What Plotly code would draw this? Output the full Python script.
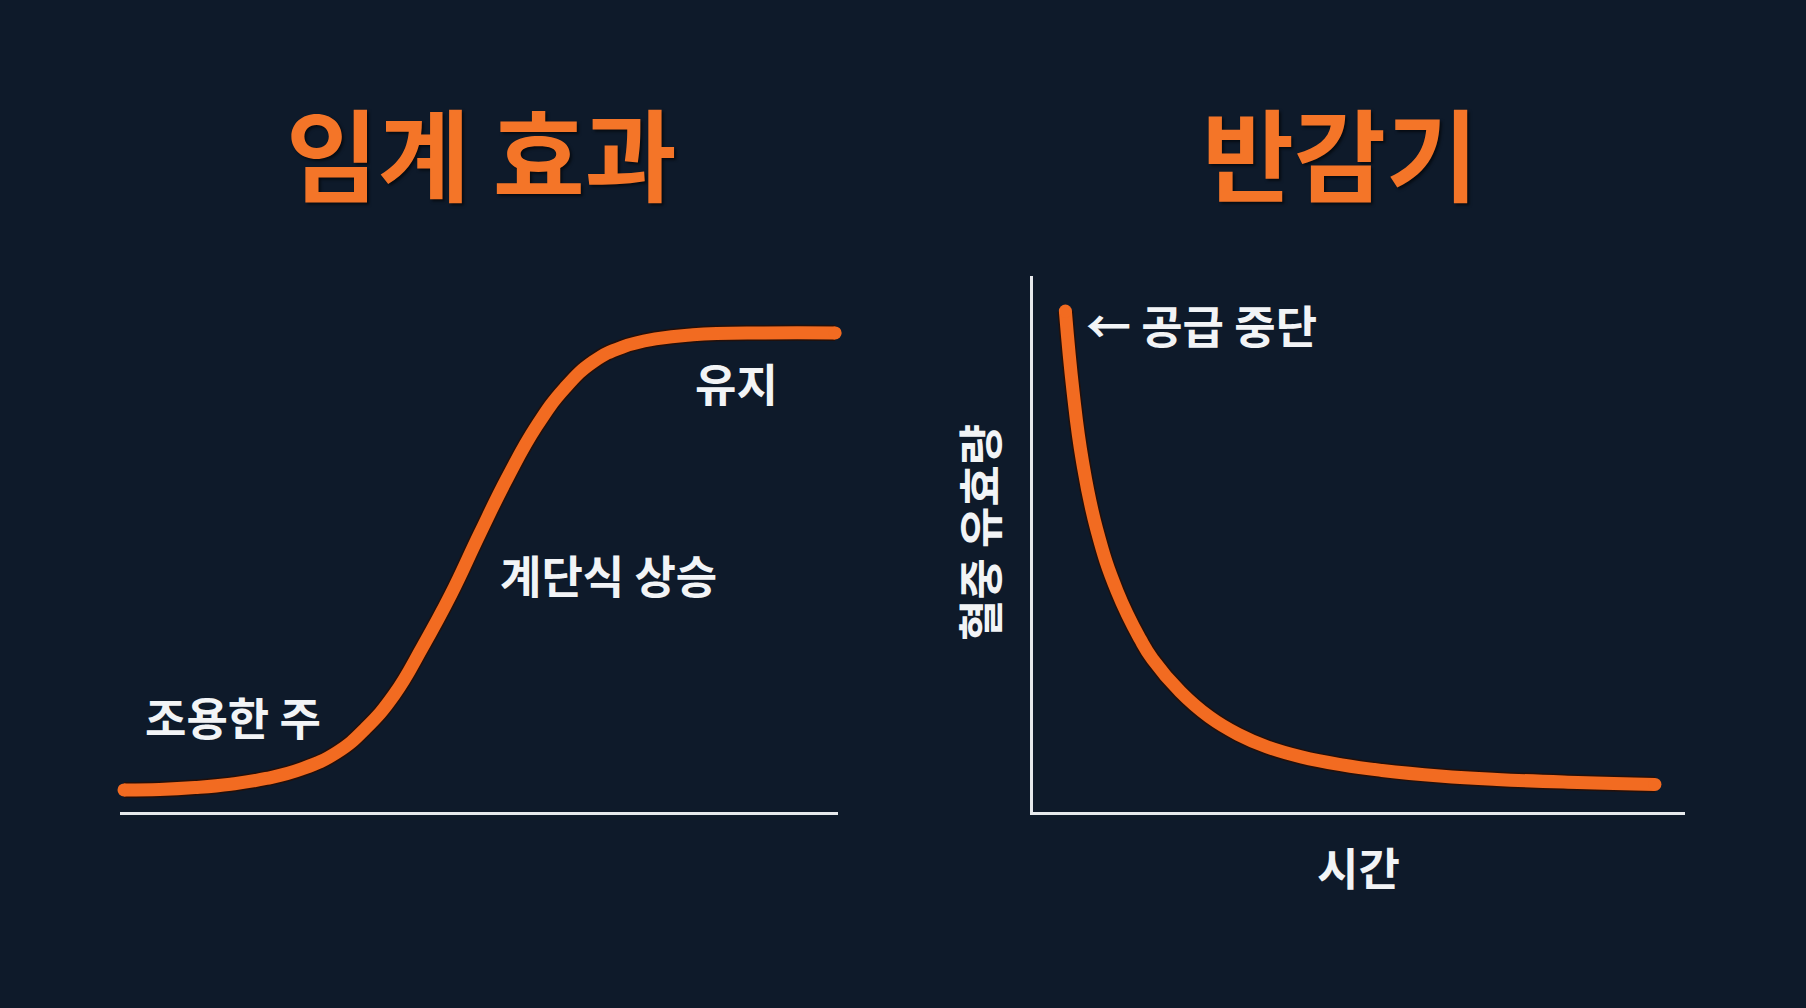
import plotly.graph_objects as go

# ---------------- data ----------------
# Left: threshold effect (S-curve)
weeks = [0, 0.5, 1, 1.5, 2, 2.5, 3, 3.4, 3.8, 4.2, 4.6, 5, 5.4, 5.8, 6.2, 6.6, 7, 7.5, 8, 9, 10]
level = [0.046, 0.047, 0.051, 0.058, 0.070, 0.090, 0.125, 0.175, 0.245, 0.345, 0.455,
         0.580, 0.700, 0.805, 0.885, 0.940, 0.970, 0.988, 0.996, 1.0, 1.0]

# Right: half-life decay
time_x = [0, 0.13, 0.29, 0.53, 0.88, 1.27, 1.48, 1.95, 2.44, 2.93, 3.42, 4.0, 4.69, 5.37, 6.35, 7.32, 8.69, 10]
effect = [1.0, 0.84, 0.70, 0.565, 0.44, 0.345, 0.305, 0.24, 0.19, 0.155, 0.13, 0.11,
          0.094, 0.083, 0.072, 0.065, 0.059, 0.055]

titles = ["임계 효과", "반감기"]
left_labels = ["조용한 주", "계단식 상승", "유지"]
right_labels = ["← 공급 중단", "시간", "혈중 유효량"]

# ---------------- style ----------------
W, H = 1806, 1008
BG = "#0e1a2a"
ORANGE = "#f26b21"
TITLE_ORANGE = "#f47528"
WHITE = "#f2f4f6"
AXIS = "#e6e9ec"
FONT = "Noto Sans CJK KR"
LW = 13


def px(x):
    return x / W


def py(y):
    return 1 - y / H


fig = go.Figure()

for xs, ys, xa, ya in [(weeks, level, "x", "y"), (time_x, effect, "x2", "y2")]:
    fig.add_trace(go.Scatter(x=xs, y=ys, xaxis=xa, yaxis=ya, mode="lines",
                             line=dict(color="rgba(40,14,4,0.85)", width=LW + 3, shape="spline", smoothing=1.3),
                             hoverinfo="skip", showlegend=False))
    fig.add_trace(go.Scatter(x=xs, y=ys, xaxis=xa, yaxis=ya, mode="lines",
                             line=dict(color=ORANGE, width=LW, shape="spline", smoothing=1.3),
                             hoverinfo="skip", showlegend=False))
    fig.add_trace(go.Scatter(x=[xs[0], xs[-1]], y=[ys[0], ys[-1]], xaxis=xa, yaxis=ya,
                             mode="markers", cliponaxis=False,
                             marker=dict(color=ORANGE, size=LW, line=dict(width=0)),
                             hoverinfo="skip", showlegend=False))

noaxis = dict(showgrid=False, zeroline=False, showticklabels=False, ticks="", fixedrange=True)

fig.update_layout(
    width=W, height=H,
    margin=dict(l=0, r=0, t=0, b=0),
    paper_bgcolor=BG, plot_bgcolor=BG,
    showlegend=False,
    xaxis=dict(domain=[px(120), px(838)], range=[-0.056, 10.04], showline=True,
               linecolor=AXIS, linewidth=3, anchor="y", **noaxis),
    yaxis=dict(domain=[py(812), py(285)], range=[0, 1.1], showline=False, anchor="x", **noaxis),
    xaxis2=dict(domain=[px(1033), px(1685)], range=[-0.549, 10.51], showline=True,
                linecolor=AXIS, linewidth=3, anchor="y2", **noaxis),
    yaxis2=dict(domain=[py(812), py(276)], range=[0, 1.07], showline=True,
                linecolor=AXIS, linewidth=3, anchor="x2", **noaxis),
)

ann = []
title_font = dict(family=FONT, size=100, color=TITLE_ORANGE, weight=700,
                  shadow="2px 2px 3px rgba(0,0,0,0.6)")
ann.append(dict(text=titles[0], x=px(481), y=py(150), font=title_font))
ann.append(dict(text=titles[1], x=px(1340), y=py(150), font=title_font))

lab_font = dict(family=FONT, size=45, color=WHITE, weight=700)
ann.append(dict(text=left_labels[0], x=px(233), y=py(716), font=lab_font))
ann.append(dict(text=left_labels[1], x=px(608), y=py(574), font=lab_font))
ann.append(dict(text=left_labels[2], x=px(736), y=py(382), font=lab_font))
ann.append(dict(text=right_labels[0], x=px(1084), y=py(325), xanchor="left", font=lab_font))
ann.append(dict(text=right_labels[1], x=px(1358), y=py(866), font=lab_font))
ann.append(dict(text=right_labels[2], x=px(978), y=py(533), textangle=-90, font=lab_font))

for a in ann:
    a.setdefault("xanchor", "center")
    a.update(xref="paper", yref="paper", yanchor="middle", showarrow=False)
fig.update_layout(annotations=ann)

fig.write_html("out.html", config={"displayModeBar": False},
               post_script="document.body.style.margin='0';document.body.style.overflow='hidden';"
                           "document.body.style.background='" + BG + "';")
